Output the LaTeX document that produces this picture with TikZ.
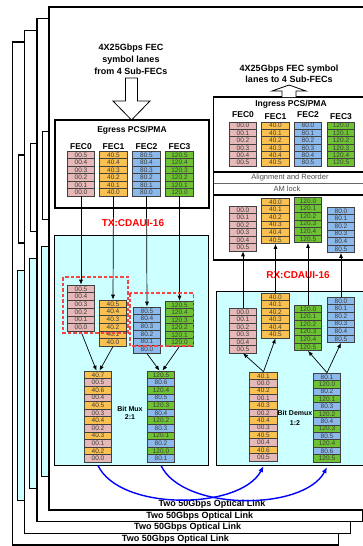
\documentclass[tikz,border=0pt]{standalone}
\usepackage{fontspec}
\setmainfont{Liberation Sans}
\usetikzlibrary{arrows.meta}
\definecolor{cP}{RGB}{230,185,184}
\definecolor{cO}{RGB}{250,192,80}
\definecolor{cB}{RGB}{140,185,235}
\definecolor{cG}{RGB}{110,195,50}
\definecolor{cCy}{RGB}{204,255,255}
\definecolor{cTxt}{RGB}{60,60,60}
\definecolor{cRed}{RGB}{240,70,70}
\newcommand{\cstack}[5]{%
  \foreach [count=\i] \cellc/\cellt in {#5} {%
    \node[cellbox, fill=\cellc, minimum height=#4] (#1-\i) at (#2, {#3+(\i-0.5)*#4}) {\cellt};
  }%
}
\tikzset{
  page/.style={draw=black, line width=1.4pt, fill=white},
  boxw/.style={draw=black, line width=1.3pt, fill=white},
  cyanbox/.style={draw=black, line width=1pt, fill=cCy},
  cellbox/.style={draw=black!75, line width=0.6pt, inner sep=0pt, minimum width=27.5pt,
    font=\fontsize{6.5}{6.5}\selectfont, text=cTxt, text height=4.6pt, text depth=0pt},
  linklbl/.style={font=\bfseries\fontsize{9}{9}\selectfont, inner sep=0pt},
  titlelbl/.style={font=\bfseries\fontsize{8.5}{8.5}\selectfont, inner sep=0pt},
  feclbl/.style={font=\bfseries\fontsize{8.5}{8.5}\selectfont, inner sep=0pt},
  redlbl/.style={font=\bfseries\fontsize{10}{10}\selectfont, text=red, inner sep=0pt},
  smalllbl/.style={font=\fontsize{7.5}{7.5}\selectfont, text=black!70, inner sep=0pt},
  arr/.style={-{Latex[length=5pt,width=4pt]}, line width=0.7pt, black},
  bluearr/.style={-{Latex[length=6pt,width=5pt]}, line width=1.4pt, blue},
  dashbox/.style={draw=cRed, dash pattern=on 3.5pt off 2pt, line width=1.1pt},
  hollow/.style={draw=black, line width=0.8pt, fill=white}
}
\begin{document}
\begin{tikzpicture}[x=1pt,y=-1pt]
\useasboundingbox (0,0) rectangle (363,546);
\clip (0,0) rectangle (363,546);
% back pages
\foreach \k in {3,2,1} {
  \begin{scope}[shift={(-12.2*\k,11.7*\k)}]
    \draw[page] (49,7) rectangle (375,510);
    \draw[boxw] (55,120) rectangle (209,208);
    \draw[cyanbox] (54,235) rectangle (208,465);
    \node[linklbl] (lbl\k) at (212,504) {Two 50Gbps Optical Link};
  \end{scope}
}
% front page
\draw[page] (49,7) rectangle (375,510);
\node[linklbl] (lbl0) at (212,504) {Two 50Gbps Optical Link};

% top-left text and arrow
\node[font=\bfseries\fontsize{9}{12}\selectfont, align=center, inner sep=0pt] (intxt) at (131,59)
  {4X25Gbps FEC\\symbol lanes\\from 4 Sub-FECs};
\draw[hollow] (125.5,78) -- (137.5,78) -- (137.5,101) -- (150,101) -- (131.5,120)
  -- (113,101) -- (125.5,101) -- cycle;

% Egress box
\draw[boxw] (55,120) rectangle (209,208);
\node[titlelbl] (egt) at (132,130) {Egress PCS/PMA};
\node[feclbl] (egl0) at (81,147) {FEC0};
\node[feclbl] (egl1) at (113.5,147) {FEC1};
\node[feclbl] (egl2) at (146.5,147) {FEC2};
\node[feclbl] (egl3) at (179.5,147) {FEC3};

\node[redlbl] (txl) at (133,223) {TX:CDAUI-16};
\draw[cyanbox] (54,235) rectangle (208,465);
\node[font=\bfseries\fontsize{7}{8}\selectfont, align=center, inner sep=0pt] (muxl) at (130,413) {Bit Mux\\2:1};

% top-right text and arrow
\node[font=\bfseries\fontsize{9}{11}\selectfont, align=center, inner sep=0pt] (outtxt) at (289,74)
  {4X25Gbps FEC symbol\\lanes to 4 Sub-FECs};
% Ingress box
\draw[boxw] (213.5,97) rectangle (372,260);
\draw[line width=1.3pt] (213.5,172) -- (372,172);
\draw[line width=0.5pt, black!60] (213.5,183) -- (372,183);
\draw[line width=1.3pt] (213.5,195) -- (372,195);
\draw[hollow] (282,97) -- (282,91) -- (272,91) -- (289,85) -- (306,91) -- (296,91) -- (296,97);
\node[titlelbl] (ingt) at (291,104) {Ingress PCS/PMA};
\node[feclbl] (inl0) at (243,115) {FEC0};
\node[feclbl] (inl1) at (275.5,117) {FEC1};
\node[feclbl] (inl2) at (308,115) {FEC2};
\node[feclbl] (inl3) at (341,117) {FEC3};
\node[smalllbl] (alnl) at (290,178) {Alignment and Reorder};
\node[smalllbl] (amll) at (287,189) {AM lock};

\node[redlbl] (rxl) at (298,275) {RX:CDAUI-16};
\draw[cyanbox] (216,291) rectangle (372,465);
\node[font=\bfseries\fontsize{7}{9.5}\selectfont, align=center, inner sep=0pt] (demuxl) at (295,418) {Bit Demux\\1:2};

% Egress stacks
\cstack{egA}{81}{151}{7.5}{cP/00.5,cP/00.4,cP/00.3,cP/00.2,cP/00.1,cP/00.0}
\cstack{egB}{113.5}{151}{7.5}{cO/40.5,cO/40.4,cO/40.3,cO/40.2,cO/40.1,cO/40.0}
\cstack{egC}{146.5}{151}{7.5}{cB/80.5,cB/80.4,cB/80.3,cB/80.2,cB/80.1,cB/80.0}
\cstack{egD}{179.5}{151}{7.5}{cG/120.5,cG/120.4,cG/120.3,cG/120.2,cG/120.1,cG/120.0}
% TX stacks
\cstack{txA}{81}{285}{7.7}{cP/00.5,cP/00.4,cP/00.3,cP/00.2,cP/00.1,cP/00.0}
\cstack{txB}{113}{300}{7.7}{cO/40.5,cO/40.4,cO/40.3,cO/40.2,cO/40.1,cO/40.0}
\cstack{txC}{147}{307}{7.7}{cB/80.5,cB/80.4,cB/80.3,cB/80.2,cB/80.1,cB/80.0}
\cstack{txD}{179.5}{301}{7.5}{cG/120.5,cG/120.4,cG/120.3,cG/120.2,cG/120.1,cG/120.0}
\cstack{txm1}{98}{371}{7.6}{cO/40.7,cP/00.5,cO/40.6,cP/00.4,cO/40.5,cP/00.3,cO/40.4,cP/00.2,cO/40.3,cP/00.1,cO/40.2,cP/00.0}
\cstack{txm2}{161}{371}{7.6}{cG/120.5,cB/80.6,cG/120.4,cB/80.5,cG/120.3,cB/80.4,cG/120.2,cB/80.3,cG/120.1,cB/80.2,cG/120.0,cB/80.1}
% Ingress stacks
\cstack{inA}{243}{122}{7.35}{cP/00.0,cP/00.1,cP/00.2,cP/00.3,cP/00.4,cP/00.5}
\cstack{inB}{275.5}{122}{7.35}{cO/40.0,cO/40.1,cO/40.2,cO/40.3,cO/40.4,cO/40.5}
\cstack{inC}{308}{122}{7.35}{cB/80.0,cB/80.1,cB/80.2,cB/80.3,cB/80.4,cB/80.5}
\cstack{inD}{341}{122}{7.35}{cG/120.0,cG/120.1,cG/120.2,cG/120.3,cG/120.4,cG/120.5}
\cstack{alA}{243}{206}{7.5}{cP/00.0,cP/00.1,cP/00.2,cP/00.3,cP/00.4,cP/00.5}
\cstack{alB}{275.5}{198}{7.6}{cO/40.0,cO/40.1,cO/40.2,cO/40.3,cO/40.4,cO/40.5}
\cstack{alC}{308}{197}{7.6}{cG/120.0,cG/120.1,cG/120.2,cG/120.3,cG/120.4,cG/120.5}
\cstack{alD}{341}{207}{7.6}{cB/80.0,cB/80.1,cB/80.2,cB/80.3,cB/80.4,cB/80.5}
% RX stacks
\cstack{rxA}{243}{308}{7.5}{cP/00.0,cP/00.1,cP/00.2,cP/00.3,cP/00.4,cP/00.5}
\cstack{rxB}{275.5}{293}{7.5}{cO/40.0,cO/40.1,cO/40.2,cO/40.3,cO/40.4,cO/40.5}
\cstack{rxC}{308}{305}{7.6}{cG/120.0,cG/120.1,cG/120.2,cG/120.3,cG/120.4,cG/120.5}
\cstack{rxD}{341}{297}{7.6}{cB/80.0,cB/80.1,cB/80.2,cB/80.3,cB/80.4,cB/80.5}
\cstack{rxd1}{263.5}{372}{7.4}{cO/40.1,cP/00.0,cO/40.2,cP/00.1,cO/40.3,cP/00.2,cO/40.4,cP/00.3,cO/40.5,cP/00.4,cO/40.6,cP/00.5}
\cstack{rxd2}{327}{373}{7.4}{cB/80.1,cG/120.0,cB/80.2,cG/120.1,cB/80.3,cG/120.2,cB/80.4,cG/120.3,cB/80.5,cG/120.4,cB/80.6,cG/120.5}

% connectors TX
\draw[arr] (egA-6.south) -- (txA-1.north);
\draw[arr] (egB-6.south) -- (txB-1.north);
\draw[arr] (egC-6.south) -- (txC-1.north);
\draw[arr] (egD-6.south) -- (txD-1.north);
\draw[arr] (txA-6.south) -- ([xshift=-1.5pt]txm1-1.north);
\draw[arr] (txB-6.south) -- ([xshift=1.5pt]txm1-1.north);
\draw[arr] (txC-6.south) -- ([xshift=-1.5pt]txm2-1.north);
\draw[arr] (txD-6.south) -- ([xshift=1.5pt]txm2-1.north);
% connectors RX
\draw[arr] (rxA-1.north) -- (alA-6.south);
\draw[arr] (rxB-1.north) -- (alB-6.south);
\draw[arr] (rxC-1.north) -- (alC-6.south);
\draw[arr] (rxD-1.north) -- (alD-6.south);
\draw[arr] (rxd1-1.north) -- (rxA-6.south);
\draw[arr] (rxd1-1.north) -- (rxB-6.south);
\draw[arr] (rxd2-1.north) -- (rxC-6.south);
\draw[arr] (rxd2-1.north) -- (rxD-6.south);

% red dashed groups
\draw[dashbox] (63,277) rectangle (128,333);
\draw[dashbox] (130,293) rectangle (193.5,346);

% optical links
\draw[bluearr] ([yshift=-3pt]txm1-12.south) .. controls +(22,46) and +(-23,44) .. ([yshift=-5pt]rxd1-12.south);
\draw[bluearr] ([yshift=-3pt]txm2-12.south) .. controls +(22,46) and +(-23,44) .. ([yshift=-5pt]rxd2-12.south);
\end{tikzpicture}
\end{document}
